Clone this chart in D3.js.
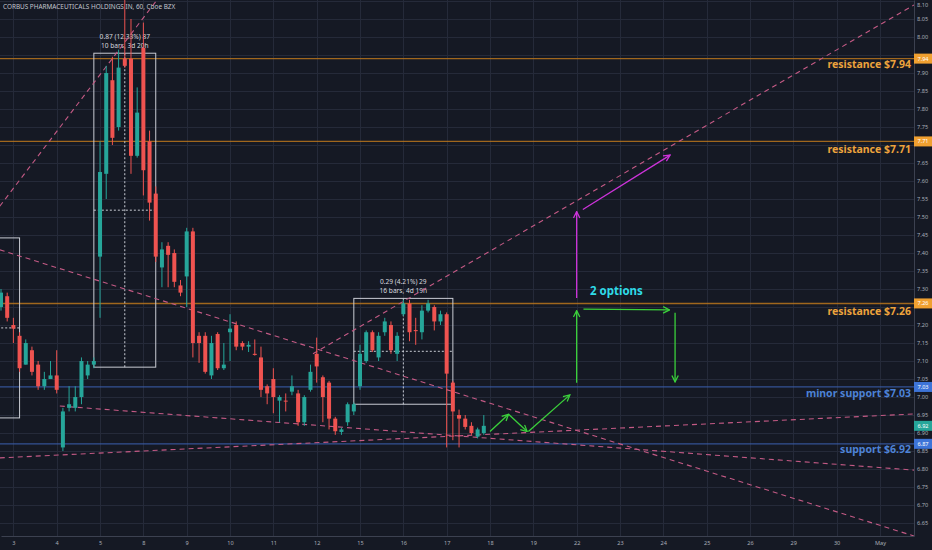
<!DOCTYPE html>
<html>
<head>
<meta charset="utf-8">
<script src="https://cdn.jsdelivr.net/npm/d3@7"></script>
<style>
  body { margin: 0; background: #151924; }
  svg { display: block; }
</style>
</head>
<body>
<div id="chart"></div>
<script>
// Hourly bars, CRBP (bar 0 = last bars of Apr 2)
const opens  = [7.25,7.28,7.20,7.17,7.09,7.13,7.09,7.03,7.05,7.06, 6.86,6.97,6.97,7.00,7.06,7.09,7.39,7.62,7.88,7.75,
                7.94,7.94,7.67,7.97,7.71,7.565,7.36,7.42,7.40,7.31, 7.335,7.46,7.17,7.17,7.06,7.175,7.08,7.18,7.20,7.15,
                7.14,7.12,7.11,7.03,7.05,6.99,6.99,7.015,7.01,6.93, 7.02,7.12,7.055,7.04,6.94,6.903,6.93,6.96,7.03,7.10,
                7.18,7.11,7.18,7.20,7.12,7.23,7.26,7.186,7.18,7.24, 7.25,7.21,7.23,7.04,6.95,6.94,6.92,6.89,6.90];
const highs  = [7.30,7.29,7.22,7.18,7.16,7.14,7.10,7.07,7.10,7.13, 6.97,7.03,7.03,7.11,7.10,7.11,7.71,7.92,7.945,7.965,
                8.12,8.05,7.86,8.04,7.74,7.585,7.43,7.43,7.41,7.325, 7.47,7.47,7.18,7.18,7.17,7.18,7.15,7.23,7.21,7.155,
                7.155,7.16,7.14,7.035,7.08,7.005,7.01,7.06,7.02,7.005, 7.09,7.165,7.06,7.045,6.945,6.915,6.985,6.985,7.145,7.185,
                7.185,7.18,7.22,7.21,7.18,7.27,7.27,7.22,7.255,7.27, 7.255,7.24,7.235,7.045,6.965,6.95,6.93,6.915,6.95];
const lows   = [7.24,7.21,7.15,7.07,7.09,7.06,7.02,7.02,7.05,7.01, 6.85,6.96,6.96,6.98,7.05,7.08,7.22,7.55,7.70,7.74,
                7.915,7.62,7.665,7.56,7.49,7.375,7.305,7.305,7.305,7.28, 7.25,7.11,7.095,7.065,7.05,7.075,7.075,7.10,7.13,7.13,
                7.125,7.115,7.00,6.98,6.955,6.93,6.96,7.005,6.92,6.92, 7.015,7.04,6.93,6.91,6.895,6.895,6.92,6.95,7.02,7.095,
                7.125,7.10,7.17,7.12,7.10,7.225,7.155,7.145,7.16,7.235, 7.185,7.20,6.86,6.88,6.86,6.91,6.895,6.885,6.895];
const closes = [7.29,7.22,7.19,7.08,7.15,7.07,7.03,7.05,7.06,7.02, 6.96,6.98,7.00,7.10,7.09,7.10,7.625,7.90,7.72,7.915,
                7.92,7.67,7.79,7.63,7.54,7.39,7.41,7.395,7.32,7.29, 7.46,7.15,7.15,7.07,7.15,7.08,7.09,7.19,7.14,7.14,
                7.145,7.117,7.02,7.01,7.00,7.00,6.988,7.03,6.93,7.00, 7.07,7.085,7.00,6.94,6.905,6.91,6.98,6.98,7.12,7.18,
                7.13,7.17,7.21,7.13,7.17,7.26,7.18,7.183,7.24,7.26, 7.21,7.23,7.065,6.96,6.94,6.917,6.90,6.91,6.92];

// time axis: first bar of each session (7 bars a day)
const dayLabels = ["3","4","5","8","9","10","11","12","15","16","17","18","19","22","23","24","25","26","29","30","May"];
const dayBars = dayLabels.map((d, k) => 2 + k * 7);
const priceTicks = d3.range(133, 163).map(v => v * 0.05);

// levels drawn across the chart
const resistLevels = [7.94, 7.71, 7.26];
const resistText = ["resistance $7.94", "resistance $7.71", "resistance $7.26"];
const resistTextPrice = [7.925, 7.69, 7.24];
const supportLevels = [7.028, 6.87];
const supportText = ["minor support $7.03", "support $6.92"];
const supportTextPrice = [7.01, 6.855];

// dashed trend lines: [bar0, price0, bar1, price1]
const trendLines = [
  [-0.2, 7.530, 25.2, 8.103],
  [50.4, 7.120, 147.5, 8.089],
  [-0.2, 7.409, 147.5, 6.614],
  [-0.2, 6.831, 147.5, 6.953],
  [9.5, 6.975, 147.5, 6.797]
];

// measuring boxes: [bar0, bar1, top, bottom], with their two text lines
const measureBoxes = [
  [-20, 3, 7.442, 6.942],
  [15, 25, 7.955, 7.083],
  [57, 73, 7.274, 6.98]
];
const measureText = [
  null,
  ["0.87 (12.33%) 87", "10 bars, 3d 20h"],
  ["0.29 (4.21%) 29", "16 bars, 4d 19h"]
];

// projected paths
const greenArrows = [
  [79, 6.904, 82, 6.952],
  [82, 6.952, 85, 6.904],
  [85.2, 6.904, 91.9, 7.006],
  [93, 7.040, 93, 7.240],
  [94.1, 7.244, 108, 7.242],
  [108.9, 7.234, 108.9, 7.042]
];
const magentaArrows = [
  [93, 7.275, 93, 7.515],
  [94, 7.521, 108.1, 7.672]
];

// price axis tags: [price shown, price position, colour]
const axisTags = [
  ["7.94", 7.94, "#f0a030"],
  ["7.71", 7.71, "#f0a030"],
  ["7.26", 7.26, "#f0a030"],
  ["7.03", 7.028, "#3d74d8"],
  ["6.92", 6.92, "#26a69a"],
  ["6.87", 6.87, "#3d74d8"]
];

const width = 932, height = 550;
const plotW = 914, plotH = 536;

const svg = d3.select("#chart").append("svg")
  .attr("width", width)
  .attr("height", height)
  .style("font-family", "'Noto Sans', 'DejaVu Sans', sans-serif");

svg.append("rect").attr("width", width).attr("height", height).attr("fill", "#151924");

const x = d3.scaleLinear().domain([0, 147.5]).range([1, plotW]);
const y = d3.scaleLinear().domain([6.614, 8.1028]).range([plotH, 0]);

svg.append("clipPath").attr("id", "plot")
  .append("rect").attr("width", plotW).attr("height", plotH);

const plot = svg.append("g").attr("clip-path", "url(#plot)");

// grid
plot.append("g").selectAll("line").data(priceTicks).join("line")
  .attr("x1", 0).attr("x2", plotW)
  .attr("y1", d => Math.round(y(d)) + 0.5).attr("y2", d => Math.round(y(d)) + 0.5)
  .attr("stroke", "#252a39").attr("stroke-width", 1);
plot.append("g").selectAll("line").data(dayBars).join("line")
  .attr("y1", 0).attr("y2", plotH)
  .attr("x1", d => Math.round(x(d)) + 0.5).attr("x2", d => Math.round(x(d)) + 0.5)
  .attr("stroke", "#252a39").attr("stroke-width", 1);

// horizontal levels
plot.append("g").selectAll("line").data(resistLevels).join("line")
  .attr("x1", 0).attr("x2", plotW)
  .attr("y1", d => y(d)).attr("y2", d => y(d))
  .attr("stroke", "#b8761c").attr("stroke-opacity", 0.85).attr("stroke-width", 1.4);
plot.append("g").selectAll("line").data(supportLevels).join("line")
  .attr("x1", 0).attr("x2", plotW)
  .attr("y1", d => y(d)).attr("y2", d => y(d))
  .attr("stroke", "#3a5ca8").attr("stroke-opacity", 0.85).attr("stroke-width", 1.2);

// measuring boxes
const boxes = plot.append("g");
measureBoxes.forEach(([b0, b1, top, bot], k) => {
  const g = boxes.append("g");
  g.append("rect")
    .attr("x", x(b0)).attr("y", y(top))
    .attr("width", x(b1) - x(b0)).attr("height", y(bot) - y(top))
    .attr("fill", "none").attr("stroke", "#c9ccd4").attr("stroke-width", 1);
  const midY = y((top + bot) / 2);
  g.append("line")
    .attr("x1", x(b0)).attr("x2", x(b1)).attr("y1", midY).attr("y2", midY)
    .attr("stroke", "#c9ccd4").attr("stroke-dasharray", "2,2");
  const midX = x((b0 + b1) / 2);
  g.append("line")
    .attr("x1", midX).attr("x2", midX).attr("y1", y(top)).attr("y2", y(bot))
    .attr("stroke", "#c9ccd4").attr("stroke-dasharray", "2,2");
  if (measureText[k]) {
    measureText[k].forEach((t, j) => {
      g.append("text")
        .attr("x", midX).attr("y", y(top) - 14 + j * 8.5)
        .attr("text-anchor", "middle")
        .attr("font-size", 6.6)
        .attr("fill", "#d6d8de")
        .text(t);
    });
  }
});

// trend lines
plot.append("g").selectAll("line").data(trendLines).join("line")
  .attr("x1", d => x(d[0])).attr("y1", d => y(d[1]))
  .attr("x2", d => x(d[2])).attr("y2", d => y(d[3]))
  .attr("stroke", "#c45a85").attr("stroke-width", 1.1)
  .attr("stroke-dasharray", "5,4");

// candles
const bars = d3.range(opens.length);
const candle = plot.append("g").selectAll("g").data(bars).join("g");
const col = i => closes[i] >= opens[i] ? "#26a69a" : "#ef5350";
candle.append("line")
  .attr("x1", i => x(i)).attr("x2", i => x(i))
  .attr("y1", i => y(highs[i])).attr("y2", i => y(lows[i]))
  .attr("stroke", col).attr("stroke-width", 1);
candle.append("rect")
  .attr("x", i => x(i) - 2).attr("width", 4)
  .attr("y", i => y(Math.max(opens[i], closes[i])))
  .attr("height", i => Math.max(1, Math.abs(y(opens[i]) - y(closes[i]))))
  .attr("fill", col);

// arrows
const defs = svg.append("defs");
function marker(id, color) {
  defs.append("marker").attr("id", id)
    .attr("viewBox", "0 0 10 10").attr("refX", 9).attr("refY", 5)
    .attr("markerWidth", 8).attr("markerHeight", 8)
    .attr("markerUnits", "userSpaceOnUse")
    .attr("orient", "auto")
    .append("path").attr("d", "M1,1 L9,5 L1,9")
    .attr("fill", "none").attr("stroke", color).attr("stroke-width", 1.6);
}
marker("headG", "#3bd13b");
marker("headM", "#cc33d9");

plot.append("g").selectAll("line").data(greenArrows).join("line")
  .attr("x1", d => x(d[0])).attr("y1", d => y(d[1]))
  .attr("x2", d => x(d[2])).attr("y2", d => y(d[3]))
  .attr("stroke", "#3bd13b").attr("stroke-width", 1.3)
  .attr("marker-end", "url(#headG)");
plot.append("g").selectAll("line").data(magentaArrows).join("line")
  .attr("x1", d => x(d[0])).attr("y1", d => y(d[1]))
  .attr("x2", d => x(d[2])).attr("y2", d => y(d[3]))
  .attr("stroke", "#cc33d9").attr("stroke-width", 1.3)
  .attr("marker-end", "url(#headM)");

plot.append("text")
  .attr("x", x(95.15)).attr("y", y(7.295) + 4)
  .attr("font-size", 11.5).attr("font-weight", "bold")
  .attr("fill", "#2fdbe8")
  .text("2 options");

// level captions
plot.append("g").selectAll("text").data(resistText).join("text")
  .attr("x", plotW - 3).attr("y", (d, k) => y(resistTextPrice[k]) + 4)
  .attr("text-anchor", "end")
  .attr("font-size", 10.5).attr("font-weight", "bold")
  .attr("fill", "#eda33c")
  .text(d => d);
plot.append("g").selectAll("text").data(supportText).join("text")
  .attr("x", plotW - 3).attr("y", (d, k) => y(supportTextPrice[k]) + 4)
  .attr("text-anchor", "end")
  .attr("font-size", 10.5).attr("font-weight", "bold")
  .attr("fill", "#4d82d6")
  .text(d => d);

// title
svg.append("text")
  .attr("x", 3).attr("y", 9)
  .attr("font-size", 6.4)
  .attr("fill", "#c3c6ce")
  .text("CORBUS PHARMACEUTICALS HOLDINGS IN, 60, Cboe BZX");

// price axis (labels hidden where a tag sits on them)
const tagY = axisTags.map(t => y(t[1]));
const yAxis = svg.append("g")
  .attr("transform", `translate(${plotW},0)`)
  .call(d3.axisRight(y).tickValues(priceTicks).tickSize(0).tickPadding(3).tickFormat(d3.format(".2f")));
yAxis.select(".domain").attr("stroke", "#3c4150");
yAxis.selectAll(".tick text").attr("font-size", 5.6).attr("fill", "#a9adb8")
  .style("font-family", "'Noto Sans', sans-serif")
  .attr("dy", d => d > 8.08 ? "0.9em" : "0.32em")
  .style("display", d => tagY.some(t => Math.abs(t - y(d)) < 6.5) ? "none" : null);

// time axis
const xAxis = svg.append("g")
  .attr("transform", `translate(0,${plotH})`)
  .call(d3.axisBottom(x).tickValues(dayBars).tickSize(0).tickPadding(5)
    .tickFormat((d, k) => dayLabels[k]));
xAxis.select(".domain").attr("stroke", "#3c4150");
xAxis.selectAll("text").attr("font-size", 5.6).attr("fill", "#a9adb8")
  .style("font-family", "'Noto Sans', sans-serif");

// axis tags
const tags = svg.append("g").selectAll("g").data(axisTags).join("g")
  .attr("transform", d => `translate(${plotW},${y(d[1])})`);
tags.append("rect")
  .attr("x", 0).attr("y", -5).attr("width", 18).attr("height", 10)
  .attr("fill", d => d[2]);
tags.append("text")
  .attr("x", 9).attr("y", 2)
  .attr("text-anchor", "middle")
  .attr("font-size", 5.6)
  .attr("fill", "#ffffff")
  .text(d => d[0]);
</script>
</body>
</html>
